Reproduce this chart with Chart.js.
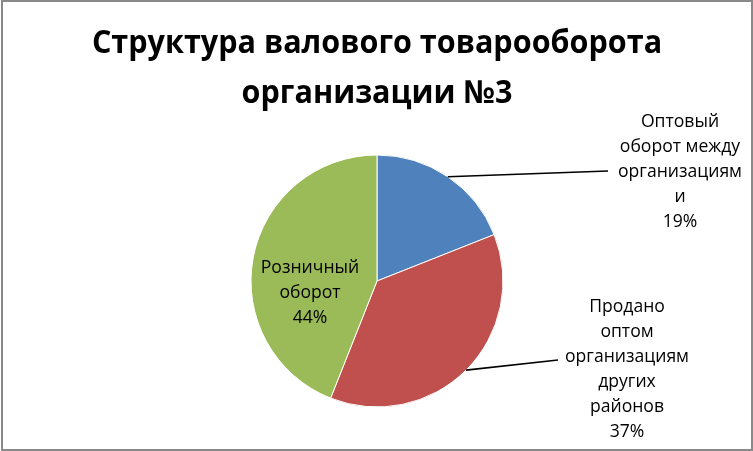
<!DOCTYPE html>
<html>
<head>
<meta charset="utf-8">
<script src="https://cdn.jsdelivr.net/npm/chart.js@4/dist/chart.umd.min.js"></script>
<style>
  html, body { margin: 0; padding: 0; background: #fff; }
  #wrap { width: 753px; height: 451px; position: relative; }
</style>
</head>
<body>
<div id="wrap"><canvas id="chart" width="753" height="451"></canvas></div>
<script>
// Chart title (two lines)
const titleLines = ['Структура валового товарооборота', 'организации №3'];

// Categories of gross turnover
const categories = [
  'Оптовый оборот между организациями',
  'Продано оптом организациям других районов',
  'Розничный оборот'
];

// Wrapped label lines for each category
const labelLines = [
  ['Оптовый', 'оборот между', 'организациям', 'и'],
  ['Продано', 'оптом', 'организациям', 'других', 'районов'],
  ['Розничный', 'оборот']
];

// Share of each category, %
const shares = [19, 37, 44];

const sliceColors = ['#4F81BD', '#C0504D', '#9BBB59'];

const FONT = '"Open Sans", "Noto Sans", sans-serif';

// Label placement: text block centre and leader line end (null = inside the slice)
const labelLayout = [
  { x: 680, y: 122, lineEnd: { x: 608, y: 171 } },
  { x: 627, y: 307, lineEnd: { x: 558, y: 360 } },
  { x: 310, y: 268, lineEnd: null }
];
const LINE_H = 25;

// Draws centred text slightly condensed horizontally
function narrowText(ctx, text, x, y, sx) {
  ctx.save();
  ctx.translate(x, y);
  ctx.scale(sx, 1);
  ctx.fillText(text, 0, 0);
  ctx.restore();
}

const framePlugin = {
  id: 'frame',
  afterDraw(chart) {
    const ctx = chart.ctx;
    ctx.save();
    ctx.strokeStyle = '#898989';
    ctx.lineWidth = 2;
    ctx.strokeRect(2, 1, 750, 449);
    ctx.restore();
  }
};

const titlePlugin = {
  id: 'titleText',
  afterDraw(chart) {
    const ctx = chart.ctx;
    ctx.save();
    ctx.fillStyle = '#000';
    ctx.textAlign = 'center';
    ctx.textBaseline = 'alphabetic';
    ctx.font = 'bold 32px ' + FONT;
    narrowText(ctx, titleLines[0], 377, 53, 0.955);
    narrowText(ctx, titleLines[1], 377, 103, 0.955);
    ctx.restore();
  }
};

const labelPlugin = {
  id: 'sliceLabels',
  afterDatasetsDraw(chart) {
    const ctx = chart.ctx;
    const meta = chart.getDatasetMeta(0);
    ctx.save();
    meta.data.forEach((arc, i) => {
      const lay = labelLayout[i];
      if (lay.lineEnd) {
        const mid = (arc.startAngle + arc.endAngle) / 2;
        const sx = arc.x + Math.cos(mid) * arc.outerRadius;
        const sy = arc.y + Math.sin(mid) * arc.outerRadius;
        ctx.strokeStyle = '#000';
        ctx.lineWidth = 1.6;
        ctx.beginPath();
        ctx.moveTo(sx, sy);
        ctx.lineTo(lay.lineEnd.x, lay.lineEnd.y);
        ctx.stroke();
      }
      const lines = labelLines[i].concat([shares[i] + '%']);
      ctx.fillStyle = '#000';
      ctx.textAlign = 'center';
      ctx.textBaseline = 'middle';
      ctx.font = '18.5px ' + FONT;
      lines.forEach((t, k) => narrowText(ctx, t, lay.x, lay.y + k * LINE_H, 0.95));
    });
    ctx.restore();
  }
};

new Chart(document.getElementById('chart'), {
  type: 'pie',
  data: {
    labels: categories,
    datasets: [{
      data: shares,
      backgroundColor: sliceColors,
      borderColor: '#ffffff',
      borderWidth: 1
    }]
  },
  options: {
    responsive: false,
    animation: false,
    radius: 126,
    layout: { padding: { top: 140, bottom: 29, left: 200, right: 199 } },
    plugins: {
      legend: { display: false },
      title: { display: false },
      tooltip: { enabled: false }
    }
  },
  plugins: [labelPlugin, titlePlugin, framePlugin]
});
</script>
</body>
</html>
